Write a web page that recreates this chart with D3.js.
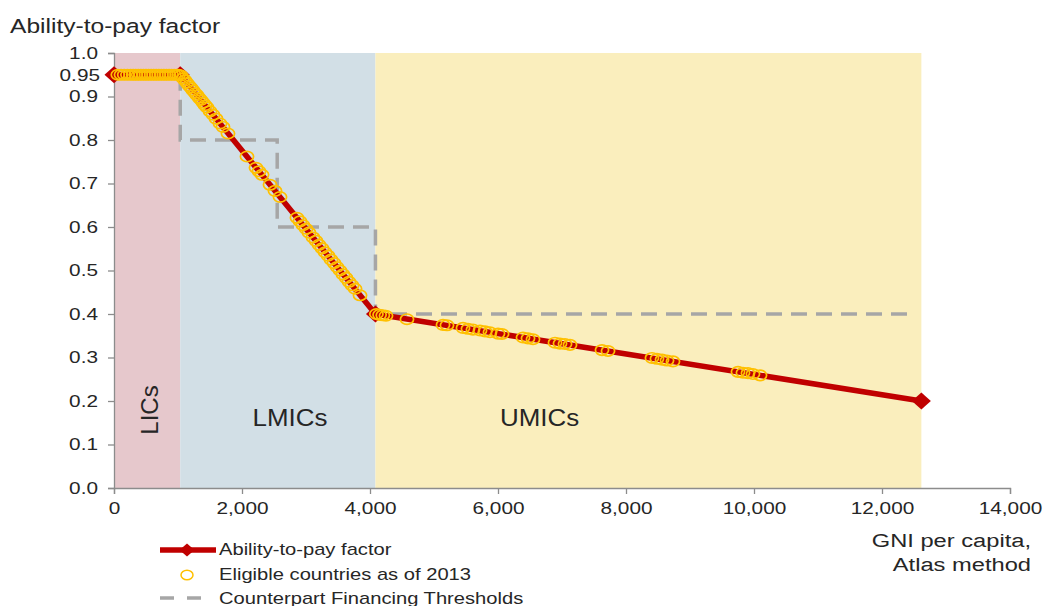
<!DOCTYPE html>
<html>
<head>
<meta charset="utf-8">
<script src="https://cdn.jsdelivr.net/npm/d3@7"></script>
<style>
  body { margin: 0; background: #fff; }
  svg { display: block; font-family: "Liberation Sans", Arial, sans-serif; }
</style>
</head>
<body>
<svg id="chart" width="1044" height="606"></svg>
<script>
// ---- data ----
const bandNames = ["LICs", "LMICs", "UMICs"];
const bandStart = [0, 1035, 4085];
const bandEnd = [1035, 4085, 12615];

const atpGni = [0, 1035, 4085, 12615];
const atpValue = [0.95, 0.95, 0.40, 0.20];

const thrGni = [1035, 1035, 2550, 2550, 4085, 4085, 12450];
const thrValue = [0.95, 0.80, 0.80, 0.60, 0.60, 0.40, 0.40];

const countryGni = [
  60, 110, 160, 210, 260, 300, 340, 380, 420, 460, 500, 540, 580, 620, 660, 700, 740, 780, 820, 860, 900, 940, 980, 1010,
  1047, 1078, 1109, 1141, 1172, 1203, 1234, 1266, 1297, 1328, 1359, 1391, 1422, 1453, 1500, 1547, 1594, 1656, 1703, 1781,
  2078, 2219, 2266, 2313, 2438, 2516, 2594, 2859, 2906, 2953, 3000, 3047, 3109, 3156, 3203, 3250, 3297, 3344, 3391, 3438,
  3484, 3531, 3578, 3625, 3672, 3719, 3766, 3844,
  4100, 4150, 4200, 4250, 4578, 5141, 5203, 5453, 5531, 5609, 5719, 5797, 5875, 6000, 6063, 6391, 6469, 6547,
  6891, 6969, 7047, 7125, 7625, 7719, 8406, 8484, 8563, 8641, 8734, 9750, 9828, 9906, 9984, 10094
];
const countryAtp = [
  0.95, 0.95, 0.95, 0.95, 0.95, 0.95, 0.95, 0.95, 0.95, 0.95, 0.95, 0.95, 0.95, 0.95, 0.95, 0.95, 0.95, 0.95, 0.95, 0.95, 0.95, 0.95, 0.95, 0.95,
  0.948, 0.942, 0.937, 0.931, 0.925, 0.920, 0.914, 0.908, 0.903, 0.897, 0.892, 0.886, 0.880, 0.875, 0.866, 0.858, 0.849, 0.838, 0.830, 0.815,
  0.762, 0.736, 0.728, 0.720, 0.697, 0.683, 0.669, 0.621, 0.613, 0.604, 0.596, 0.587, 0.576, 0.568, 0.559, 0.551, 0.542, 0.534, 0.525, 0.517,
  0.508, 0.500, 0.491, 0.483, 0.474, 0.466, 0.458, 0.443,
  0.400, 0.398, 0.397, 0.396, 0.388, 0.375, 0.374, 0.368, 0.366, 0.364, 0.362, 0.360, 0.358, 0.355, 0.354, 0.346, 0.344, 0.342,
  0.334, 0.332, 0.331, 0.329, 0.317, 0.315, 0.299, 0.297, 0.295, 0.293, 0.291, 0.267, 0.265, 0.264, 0.262, 0.259
];

const xTicks = [0, 2000, 4000, 6000, 8000, 10000, 12000, 14000];
const yTicks = [0, 0.1, 0.2, 0.3, 0.4, 0.5, 0.6, 0.7, 0.8, 0.9, 1.0];

const legendLabels = ["Ability-to-pay factor", "Eligible countries as of 2013", "Counterpart Financing Thresholds"];

// ---- style ----
const bandColors = ["#E6C8CC", "#D2DFE6", "#FAEEBD"];
const lineColor = "#C00000";
const circleColor = "#FFC000";
const dashColor = "#A6A6A6";
const textColor = "#262626";
const axisColor = "#8C8C8C";
const SX = 1.26; // horizontal stretch of text in the reference

const svg = d3.select("#chart");
const x = d3.scaleLinear().domain([0, 14000]).range([114, 1010]);
const y = d3.scaleLinear().domain([0, 1]).range([488, 53]);

function label(px, py, txt, size, anchor, sx) {
  return svg.append("text")
    .attr("transform", `translate(${px},${py}) scale(${sx || SX},1)`)
    .attr("text-anchor", anchor || "start")
    .attr("font-size", size).attr("fill", textColor).text(txt);
}
function diamondPath(hw, hh) {
  return `M0,${-hh}L${hw},0L0,${hh}L${-hw},0Z`;
}

// bands
svg.append("g").selectAll("rect").data(bandNames).join("rect")
  .attr("x", (d, i) => x(bandStart[i]))
  .attr("width", (d, i) => x(bandEnd[i]) - x(bandStart[i]))
  .attr("y", y(1))
  .attr("height", y(0) - y(1))
  .attr("fill", (d, i) => bandColors[i]);

// axes
const xAxis = svg.append("g").attr("transform", `translate(0,${y(0)})`)
  .call(d3.axisBottom(x).tickValues(xTicks).tickSize(6).tickPadding(8).tickFormat(d3.format(",")));
const yAxis = svg.append("g").attr("transform", `translate(${x(0)},0)`)
  .call(d3.axisLeft(y).tickValues(yTicks).tickSize(6).tickPadding(10).tickFormat(d3.format(".1f")));
[xAxis, yAxis].forEach(a => {
  a.select(".domain").attr("stroke", axisColor).attr("stroke-width", 1.3);
  a.selectAll(".tick line").attr("stroke", axisColor).attr("stroke-width", 1.3);
  a.selectAll(".tick text").attr("fill", textColor).attr("font-size", 16.5)
    .attr("font-family", "'Liberation Sans', Arial, sans-serif")
    .attr("transform", `scale(${SX},1)`);
});
yAxis.selectAll(".tick text").attr("x", -16 / SX);

// band labels
svg.append("text").attr("transform", `translate(158,410) rotate(-90)`)
  .attr("text-anchor", "middle").attr("font-size", 24).attr("fill", textColor).text(bandNames[0]);
label(x(2750), 426, bandNames[1], 24, "middle", 1.08);
label(x(6650), 426, bandNames[2], 24, "middle", 1.08);

// thresholds
const pts = (xs, ys) => xs.map((v, i) => [x(v), y(ys[i])]);
svg.append("path").attr("d", d3.line()(pts(thrGni, thrValue)))
  .attr("fill", "none").attr("stroke", dashColor).attr("stroke-width", 3.5)
  .attr("stroke-dasharray", "16,9");

// ATP line
svg.append("path").attr("d", d3.line()(pts(atpGni, atpValue)))
  .attr("fill", "none").attr("stroke", lineColor).attr("stroke-width", 5.5)
  .attr("stroke-linejoin", "round");
svg.append("g").selectAll("path").data(atpGni).join("path")
  .attr("d", diamondPath(9.5, 8.5))
  .attr("transform", (d, i) => `translate(${x(d)},${y(atpValue[i])})`)
  .attr("fill", lineColor);

// countries
svg.append("g").selectAll("ellipse").data(countryGni).join("ellipse")
  .attr("cx", d => x(d)).attr("cy", (d, i) => y(countryAtp[i]))
  .attr("rx", 6.6).attr("ry", 5.2).attr("fill", "none")
  .attr("stroke", circleColor).attr("stroke-width", 1.7);

// 0.95 data label
label(100, y(0.95) + 6, "0.95", 16.5, "end");

// titles
label(10, 33, "Ability-to-pay factor", 19.5, "start");
label(1031, 547, "GNI per capita,", 18.8, "end");
label(1031, 571, "Atlas method", 18.8, "end");

// legend
const lg = svg.append("g");
lg.append("line").attr("x1", 160).attr("x2", 216).attr("y1", 550).attr("y2", 550)
  .attr("stroke", lineColor).attr("stroke-width", 5.5);
lg.append("path").attr("d", diamondPath(7.5, 6.5))
  .attr("transform", "translate(187,550)").attr("fill", lineColor);
lg.append("ellipse").attr("cx", 187).attr("cy", 575).attr("rx", 6).attr("ry", 4.8)
  .attr("fill", "none").attr("stroke", circleColor).attr("stroke-width", 1.5);
lg.append("line").attr("x1", 160).attr("x2", 202).attr("y1", 598).attr("y2", 598)
  .attr("stroke", dashColor).attr("stroke-width", 3.5).attr("stroke-dasharray", "14,13");
[555, 580, 604].forEach((yy, i) => label(219, yy, legendLabels[i], 16, "start"));
</script>
</body>
</html>
